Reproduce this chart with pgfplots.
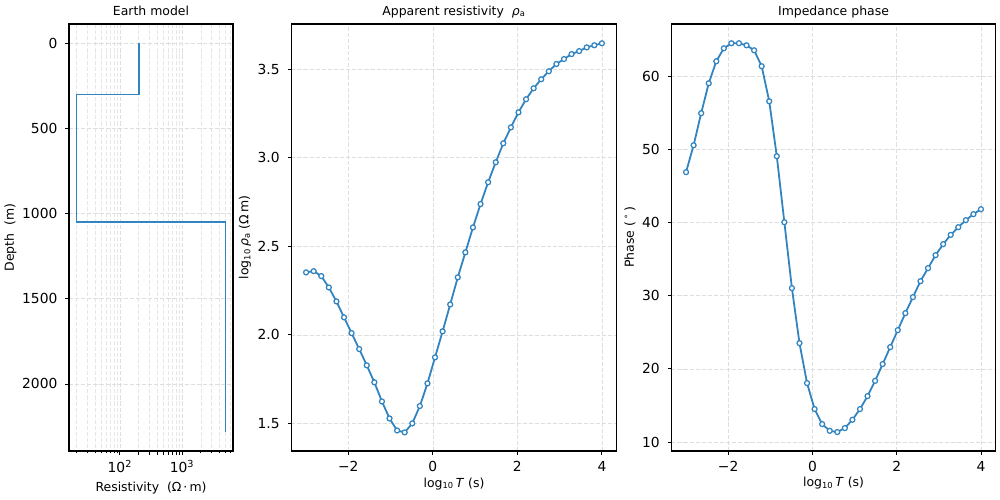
\documentclass[border=0pt]{standalone}
\usepackage{fontspec}
\setmainfont{DejaVu Sans}
\usepackage{pgfplots}
\usepackage{pgfplotstable}
\pgfplotsset{compat=1.18}

\definecolor{mtblue}{RGB}{50,132,192}
\definecolor{gridgray}{RGB}{222,222,222}

% MT response: log10 period, log10 apparent resistivity, phase in degrees
\pgfplotstableread{
x rho phase
-3.0000 2.353 46.89
-2.8205 2.360 50.57
-2.6410 2.332 54.95
-2.4615 2.268 59.04
-2.2821 2.189 62.05
-2.1026 2.099 63.82
-1.9231 2.010 64.51
-1.7436 1.920 64.51
-1.5641 1.828 64.23
-1.3846 1.732 63.55
-1.2051 1.624 61.37
-1.0256 1.528 56.58
-0.8462 1.460 49.07
-0.6667 1.449 40.05
-0.4872 1.500 31.04
-0.3077 1.598 23.52
-0.1282 1.726 18.06
0.0513 1.873 14.51
0.2308 2.020 12.46
0.4103 2.172 11.54
0.5897 2.325 11.37
0.7692 2.466 11.91
0.9487 2.607 13.05
1.1282 2.739 14.51
1.3077 2.862 16.28
1.4872 2.975 18.37
1.6667 3.082 20.66
1.8462 3.172 22.98
2.0256 3.257 25.30
2.2051 3.331 27.62
2.3846 3.393 29.81
2.5641 3.444 31.99
2.7436 3.489 33.77
2.9231 3.530 35.55
3.1026 3.558 37.05
3.2821 3.586 38.32
3.4615 3.603 39.37
3.6410 3.624 40.33
3.8205 3.636 41.15
4.0000 3.647 41.83
}\mtdata

% layered earth model: resistivity (ohm m) vs depth (m)
\pgfplotstableread{
res depth
200 0
200 300
20 300
20 1050
5000 1050
5000 2280
}\modeldata

\pgfplotsset{
  panel/.style={
    scale only axis,
    anchor=south west,
    height=308.59pt,
    axis line style={line width=0.8pt},
    tick pos=left,
    tick align=outside,
    major tick length=2.6pt,
    every tick/.style={black, line width=0.6pt},
    grid=major,
    major grid style={gridgray, line width=0.5pt, dash pattern=on 3pt off 1.4pt},
    tick label style={font=\fontsize{10}{12}\selectfont},
    yticklabel style={anchor=east, inner sep=0pt, xshift=-5.6pt},
    every axis title/.style={font=\fontsize{9}{11}\selectfont,
      at={(axis description cs:0.5,1.021)}, anchor=base, inner sep=0pt},
    every axis x label/.style={font=\fontsize{9}{11}\selectfont,
      at={(axis description cs:0.5,-0.0843)}, anchor=base, inner sep=0pt},
    every axis y label/.style={font=\fontsize{9}{11}\selectfont,
      rotate=90, anchor=center, inner sep=0pt},
  },
  modelframe/.style={panel,
    at={(49.87pt,35.41pt)}, width=118.52pt,
    xmin=15.2, xmax=6590,
    y dir=reverse, ymin=-114, ymax=2394},
  mtline/.style={mtblue, line width=1.3pt, mark=*, mark size=1.8pt,
    mark options={solid, fill=white, draw=mtblue, line width=0.9pt}},
}

\begin{document}
\begin{tikzpicture}
\useasboundingbox (0,0) rectangle (722.7pt,361.35pt);

% earth model: minor decade grid and minor ticks underneath
\begin{axis}[xmode=log, modelframe,
  xtick={20,30,40,50,60,70,80,90,200,300,400,500,600,700,800,900,2000,3000,4000,5000,6000},
  xticklabels={},
  ytick=\empty,
  major tick length=1.5pt,
  every tick/.style={black, line width=0.45pt},
  major grid style={gridgray!75, line width=0.4pt, dash pattern=on 3pt off 1.4pt},
]
\addplot[draw=none, no marks] table[x=res, y=depth] {\modeldata};
\end{axis}

% earth model: layers
\begin{axis}[xmode=log, modelframe,
  xtick={100,1000}, xticklabels={10\textsuperscript{2},10\textsuperscript{3}},
  ytick={0,500,1000,1500,2000},
  yticklabels={0,500,1000,1500,2000},
  xticklabel style={anchor=base, inner sep=0pt, yshift=-13.2pt},
  title={Earth model},
  xlabel={Resistivity \ (Ω\,·\,m)},
  xlabel style={at={(axis description cs:0.5,-0.0953)}},
  ylabel={Depth \ (m)},
  ylabel style={at={(axis description cs:-0.3567,0.5)}},
]
\addplot[mtblue, line width=1.3pt, no marks] table[x=res, y=depth] {\modeldata};
\end{axis}

% apparent resistivity
\begin{axis}[panel,
  at={(210.52pt,35.41pt)}, width=235.17pt,
  xmin=-3.35, xmax=4.35,
  ymin=1.344, ymax=3.756,
  xtick={-2,0,2,4}, xticklabels={−2,0,2,4},
  ytick={1.5,2.0,2.5,3.0,3.5},
  yticklabels={1.5,2.0,2.5,3.0,3.5},
  xticklabel style={anchor=base, inner sep=0pt, yshift=-12.2pt},
  title={Apparent resistivity \ \textit{ρ}\textsubscript{a}},
  xlabel={log\textsubscript{10}\,\textit{T} (s)},
  ylabel={log\textsubscript{10}\,\textit{ρ}\textsubscript{a} (Ω\,m)},
  ylabel style={at={(axis description cs:-0.1423,0.5)}},
]
\addplot[mtline] table[x=x, y=rho] {\mtdata};
\end{axis}

% impedance phase
\begin{axis}[panel,
  at={(485.15pt,35.41pt)}, width=234.45pt,
  xmin=-3.35, xmax=4.35,
  ymin=8.78, ymax=67.14,
  xtick={-2,0,2,4}, xticklabels={−2,0,2,4},
  ytick={10,20,30,40,50,60},
  yticklabels={10,20,30,40,50,60},
  xticklabel style={anchor=base, inner sep=0pt, yshift=-12.2pt},
  title={Impedance phase},
  xlabel={log\textsubscript{10}\,\textit{T} (s)},
  ylabel={Phase (\,\textsuperscript{∘}\,)},
  ylabel style={at={(axis description cs:-0.1273,0.5)}},
]
\addplot[mtline] table[x=x, y=phase] {\mtdata};
\end{axis}
\end{tikzpicture}
\end{document}
